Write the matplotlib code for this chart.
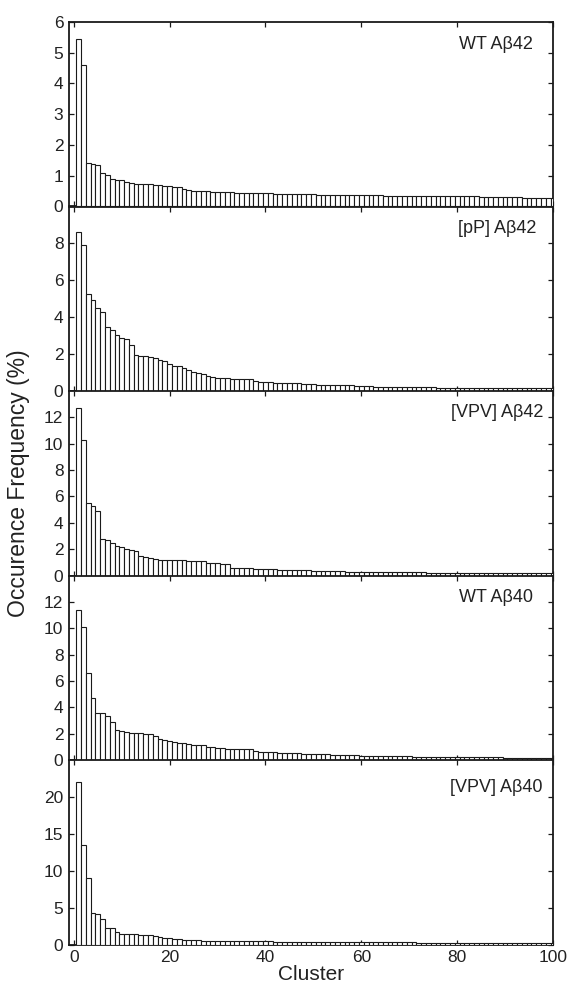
import matplotlib
matplotlib.use("Agg")
import matplotlib.pyplot as plt
import numpy as np

plt.rcParams['font.family'] = ['Liberation Sans', 'DejaVu Sans']

clusters = list(range(1, 101))

wt_ab42 = [5.46, 4.60, 1.41, 1.38, 1.35, 1.09, 1.01, 0.89, 0.86, 0.85,
           0.80, 0.77, 0.74, 0.73, 0.72, 0.72, 0.71, 0.70, 0.68, 0.66,
           0.64, 0.62, 0.57, 0.55, 0.51, 0.50, 0.49, 0.49, 0.48, 0.47,
           0.46, 0.46, 0.46, 0.45, 0.45, 0.44, 0.44, 0.43, 0.43, 0.43,
           0.43, 0.42, 0.42, 0.41, 0.41, 0.41, 0.41, 0.40, 0.40, 0.40,
           0.39, 0.38, 0.38, 0.38, 0.38, 0.38, 0.37, 0.37, 0.37, 0.37,
           0.36, 0.36, 0.36, 0.36, 0.35, 0.35, 0.34, 0.34, 0.34, 0.34,
           0.34, 0.34, 0.34, 0.34, 0.34, 0.33, 0.33, 0.33, 0.33, 0.33,
           0.33, 0.33, 0.33, 0.33, 0.32, 0.32, 0.32, 0.32, 0.32, 0.31,
           0.31, 0.30, 0.30, 0.29, 0.29, 0.29, 0.29, 0.28, 0.28, 0.28]

pp_ab42 = [8.62, 7.92, 5.25, 4.95, 4.49, 4.28, 3.48, 3.30, 3.03, 2.86,
           2.81, 2.50, 1.96, 1.92, 1.88, 1.85, 1.78, 1.70, 1.65, 1.45,
           1.38, 1.36, 1.23, 1.16, 1.03, 0.96, 0.90, 0.80, 0.74, 0.70,
           0.68, 0.68, 0.67, 0.67, 0.67, 0.67, 0.66, 0.54, 0.48, 0.47,
           0.47, 0.46, 0.42, 0.42, 0.42, 0.41, 0.41, 0.40, 0.36, 0.36,
           0.35, 0.35, 0.31, 0.31, 0.31, 0.30, 0.30, 0.30, 0.25, 0.25,
           0.25, 0.25, 0.24, 0.24, 0.24, 0.21, 0.21, 0.21, 0.21, 0.21,
           0.20, 0.20, 0.20, 0.20, 0.19, 0.18, 0.18, 0.18, 0.18, 0.18,
           0.17, 0.17, 0.17, 0.17, 0.17, 0.16, 0.16, 0.16, 0.16, 0.15,
           0.15, 0.15, 0.15, 0.15, 0.14, 0.14, 0.14, 0.14, 0.14, 0.14]

vpv_ab42 = [12.68, 10.28, 5.50, 5.29, 4.89, 2.80, 2.72, 2.50, 2.27, 2.14,
            2.04, 1.92, 1.87, 1.46, 1.39, 1.30, 1.22, 1.20, 1.18, 1.16,
            1.15, 1.15, 1.14, 1.10, 1.09, 1.08, 1.08, 0.96, 0.94, 0.92,
            0.90, 0.88, 0.58, 0.57, 0.56, 0.56, 0.55, 0.51, 0.50, 0.50,
            0.49, 0.48, 0.44, 0.43, 0.43, 0.42, 0.41, 0.39, 0.38, 0.37,
            0.36, 0.35, 0.34, 0.33, 0.32, 0.31, 0.30, 0.30, 0.29, 0.29,
            0.28, 0.28, 0.27, 0.27, 0.26, 0.26, 0.25, 0.25, 0.24, 0.24,
            0.23, 0.23, 0.23, 0.22, 0.22, 0.22, 0.21, 0.21, 0.21, 0.20,
            0.20, 0.20, 0.20, 0.19, 0.19, 0.19, 0.19, 0.19, 0.18, 0.18,
            0.18, 0.18, 0.18, 0.17, 0.17, 0.17, 0.17, 0.17, 0.17, 0.17]

wt_ab40 = [11.36, 10.10, 6.59, 4.67, 3.59, 3.54, 3.31, 2.90, 2.30, 2.17,
           2.10, 2.07, 2.05, 2.02, 2.00, 1.97, 1.79, 1.62, 1.52, 1.41,
           1.34, 1.31, 1.29, 1.19, 1.16, 1.14, 1.11, 0.98, 0.96, 0.91,
           0.88, 0.86, 0.86, 0.81, 0.81, 0.80, 0.80, 0.65, 0.64, 0.63,
           0.62, 0.60, 0.54, 0.53, 0.52, 0.51, 0.50, 0.46, 0.45, 0.45,
           0.44, 0.43, 0.42, 0.41, 0.40, 0.38, 0.37, 0.36, 0.35, 0.34,
           0.33, 0.32, 0.31, 0.30, 0.30, 0.29, 0.28, 0.28, 0.27, 0.27,
           0.26, 0.26, 0.25, 0.25, 0.24, 0.24, 0.23, 0.23, 0.22, 0.22,
           0.21, 0.21, 0.21, 0.20, 0.20, 0.20, 0.19, 0.19, 0.19, 0.18,
           0.18, 0.18, 0.18, 0.17, 0.17, 0.17, 0.17, 0.16, 0.16, 0.16]

vpv_ab40 = [22.0, 13.45, 8.98, 4.33, 4.10, 3.52, 2.17, 2.17, 1.63, 1.49,
            1.49, 1.49, 1.44, 1.35, 1.31, 1.26, 1.17, 0.99, 0.90, 0.86,
            0.72, 0.68, 0.63, 0.63, 0.63, 0.55, 0.54, 0.54, 0.53, 0.53,
            0.51, 0.50, 0.50, 0.50, 0.49, 0.49, 0.48, 0.48, 0.42, 0.41,
            0.41, 0.40, 0.40, 0.39, 0.39, 0.39, 0.38, 0.37, 0.36, 0.35,
            0.35, 0.34, 0.34, 0.33, 0.33, 0.33, 0.32, 0.32, 0.32, 0.31,
            0.31, 0.31, 0.30, 0.30, 0.30, 0.29, 0.29, 0.29, 0.28, 0.28,
            0.28, 0.27, 0.27, 0.27, 0.26, 0.26, 0.26, 0.26, 0.25, 0.25,
            0.25, 0.25, 0.24, 0.24, 0.24, 0.24, 0.23, 0.23, 0.23, 0.23,
            0.23, 0.22, 0.22, 0.22, 0.22, 0.22, 0.22, 0.21, 0.21, 0.21]

panel_labels = ['WT Aβ42', '[pP] Aβ42', '[VPV] Aβ42', 'WT Aβ40', '[VPV] Aβ40']
series = [wt_ab42, pp_ab42, vpv_ab42, wt_ab40, vpv_ab40]
y_limits = [6, 10, 14, 14, 25]
y_ticks = [[0, 1, 2, 3, 4, 5, 6], [0, 2, 4, 6, 8], [0, 2, 4, 6, 8, 10, 12],
           [0, 2, 4, 6, 8, 10, 12], [0, 5, 10, 15, 20]]
x_ticks = [0, 20, 40, 60, 80, 100]

fig = plt.figure(figsize=(5.69, 9.88), dpi=100)
W, H = 569.0, 988.0
left_px, right_px = 69.0, 553.0
top_px, bottom_px = 22.0, 944.5
ph = (bottom_px - top_px) / 5.0

# label anchor (right edge px, offset below panel top px)
label_right = [533, 536, 543, 533, 543]
label_drop = [23, 22, 21, 22, 27]

text_color = '#222222'
for i, (vals, lab, ylim, yt) in enumerate(zip(series, panel_labels, y_limits, y_ticks)):
    top = top_px + i * ph
    ax = fig.add_axes([left_px / W, 1 - (top + ph) / H, (right_px - left_px) / W, ph / H])
    ax.bar(clusters, vals, width=1.0, color='white', edgecolor='#1a1a1a',
           linewidth=0.8, zorder=3)
    ax.set_xlim(-1, 100)
    ax.set_ylim(0, ylim)
    ax.set_yticks(yt)
    ax.set_xticks(x_ticks)
    ax.tick_params(direction='in', top=True, right=True, length=3.6, width=0.9,
                   labelsize=12.5, colors='#1a1a1a', labelcolor=text_color, pad=4)
    if i < 4:
        ax.tick_params(labelbottom=False)
    for sp in ax.spines.values():
        sp.set_linewidth(1.3)
        sp.set_color('#1a1a1a')
        sp.set_zorder(2)
    ax.text((label_right[i] - left_px) / (right_px - left_px), 1 - label_drop[i] / ph,
            lab, transform=ax.transAxes, ha='right', va='center',
            fontsize=13, color=text_color)
    if i == 4:
        ax.set_xlabel('Cluster', fontsize=15, color=text_color, labelpad=0)

fig.text(19 / W, 1 - 483 / H, 'Occurence Frequency (%)', rotation=90, ha='center',
         va='center', fontsize=16.5, color=text_color)

fig.savefig('out.png', dpi=100)
